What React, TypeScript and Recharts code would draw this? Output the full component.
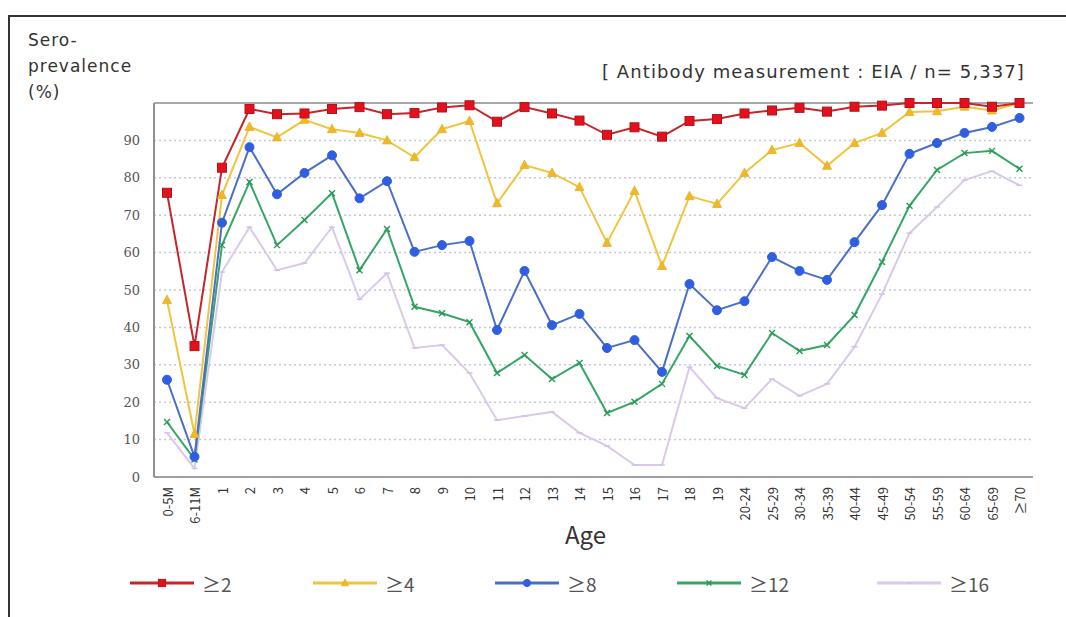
import React from 'react';
import { LineChart, Line, XAxis, YAxis, CartesianGrid, ReferenceLine } from 'recharts';

const ages = ['0-5M', '6-11M', '1', '2', '3', '4', '5', '6', '7', '8', '9', '10', '11', '12', '13', '14', '15', '16', '17', '18', '19', '20-24', '25-29', '30-34', '35-39', '40-44', '45-49', '50-54', '55-59', '60-64', '65-69', '≥70'];

const ge2 = [76, 35, 82.7, 98.4, 97, 97.2, 98.4, 98.9, 97, 97.3, 98.8, 99.4, 95, 98.9, 97.2, 95.3, 91.5, 93.5, 91, 95.2, 95.7, 97.2, 98, 98.7, 97.7, 99, 99.3, 100, 100, 100, 99, 100];
const ge4 = [47.3, 11.5, 75.4, 93.6, 90.8, 95.5, 93, 92, 90, 85.5, 93, 95.2, 73.2, 83.4, 81.3, 77.5, 62.6, 76.5, 56.4, 75.1, 73, 81.3, 87.4, 89.3, 83.2, 89.3, 92, 97.6, 97.8, 99, 98, 100];
const ge8 = [26, 5.4, 68, 88.2, 75.6, 81.3, 86, 74.5, 79.1, 60.2, 62, 63.1, 39.3, 55.1, 40.6, 43.6, 34.5, 36.6, 28.1, 51.6, 44.6, 47, 58.8, 55.1, 52.7, 62.8, 72.7, 86.4, 89.3, 92, 93.6, 96];
const ge12 = [14.7, 4.7, 62, 78.9, 62, 68.7, 75.9, 55.3, 66.3, 45.5, 43.8, 41.4, 27.8, 32.6, 26.2, 30.5, 17.1, 20.1, 24.9, 37.7, 29.7, 27.3, 38.5, 33.7, 35.3, 43.3, 57.5, 72.5, 82.1, 86.6, 87.2, 82.4];
const ge16 = [11.8, 2.3, 54.8, 66.8, 55.3, 57.2, 66.8, 47.5, 54.5, 34.5, 35.3, 27.8, 15.2, 16.3, 17.4, 11.8, 8.3, 3.2, 3.2, 29.4, 21.1, 18.4, 26.2, 21.7, 24.9, 34.8, 48.9, 65.2, 72.2, 79.4, 81.8, 78];

const yTicks = [0, 10, 20, 30, 40, 50, 60, 70, 80, 90];

const seriesNames = ['≥2', '≥4', '≥8', '≥12', '≥16'];
const seriesValues = [ge2, ge4, ge8, ge12, ge16];
const seriesKeys = ['s2', 's4', 's8', 's12', 's16'];
const lineColors = ['#c9242a', '#f0c43c', '#4a6fc8', '#36a566', '#d9c9ec'];
const markColors = ['#e4101c', '#f2b820', '#2f5fe0', '#2a9a55', '#d0c0e8'];
const markers = ['square', 'triangle', 'circle', 'cross', 'dash'];
const legendLeft = [120, 303, 485, 667, 867];

const data = ages.map((age, i) => {
  const row: Record<string, string | number> = { age };
  seriesKeys.forEach((k, j) => {
    row[k] = seriesValues[j][i];
  });
  return row;
});

function Marker({ kind, cx, cy, color, s = 1 }: { kind: string; cx: number; cy: number; color: string; s?: number }) {
  if (kind === 'square') {
    const h = 4.5 * s;
    return <rect x={cx - h} y={cy - h} width={2 * h} height={2 * h} fill={color} stroke="#b0141c" strokeWidth={1} />;
  }
  if (kind === 'triangle') {
    return <polygon points={`${cx},${cy - 5 * s} ${cx + 4.5 * s},${cy + 3.5 * s} ${cx - 4.5 * s},${cy + 3.5 * s}`} fill={color} stroke="#e0b030" strokeWidth={0.8} />;
  }
  if (kind === 'circle') {
    return <circle cx={cx} cy={cy} r={4.5 * s} fill={color} stroke={color} />;
  }
  if (kind === 'cross') {
    const h = 3 * s;
    return (
      <g stroke={color} strokeWidth={1.4}>
        <line x1={cx - h} y1={cy - h} x2={cx + h} y2={cy + h} />
        <line x1={cx - h} y1={cy + h} x2={cx + h} y2={cy - h} />
      </g>
    );
  }
  return <line x1={cx - 3} y1={cy} x2={cx + 3} y2={cy} stroke={color} strokeWidth={1.4} />;
}

const XTick = (props: any) => {
  const { x, y, payload } = props;
  const ty = y + 8;
  return (
    <text
      x={x}
      y={ty}
      transform={`rotate(-90 ${x} ${ty})`}
      textAnchor="end"
      dominantBaseline="central"
      fontSize={13}
      fontFamily="'Noto Sans CJK JP', 'DejaVu Sans', sans-serif"
      fill="#333"
    >
      {payload.value}
    </text>
  );
};

const uiFont = "'Noto Sans CJK JP', 'Noto Sans', sans-serif";

export default function App() {
  return (
    <div
      style={{
        position: 'absolute',
        left: 8,
        top: 15,
        width: 1058,
        height: 602,
        borderTop: '2px solid #333',
        borderLeft: '2px solid #333',
        boxSizing: 'border-box',
        background: '#fff',
        fontFamily: uiFont,
      }}
    >
      <div style={{ position: 'absolute', left: -2, top: -2 }}>
        <LineChart width={1050} height={600} data={data} margin={{ top: 88, right: 25, left: 106, bottom: 78 }}>
          <CartesianGrid vertical={false} stroke="#c4c8d8" strokeDasharray="2 3" strokeWidth={1.5} />
          <XAxis
            dataKey="age"
            interval={0}
            tick={<XTick />}
            tickLine={false}
            tickSize={0}
            height={60}
            padding={{ left: 13, right: 13.5 }}
            axisLine={{ stroke: '#a0a0a0', strokeWidth: 2 }}
          />
          <YAxis
            domain={[0, 100]}
            ticks={yTicks}
            width={40}
            tickLine={false}
            tickSize={0}
            tickMargin={14}
            axisLine={{ stroke: '#909090', strokeWidth: 2 }}
            tick={{ fill: '#555', fontSize: 13, fontFamily: "'DejaVu Serif', serif" }}
          />
          <YAxis
            yAxisId="r"
            orientation="right"
            domain={[0, 100]}
            width={0}
            tick={false}
            tickLine={false}
            axisLine={{ stroke: '#a0a0a0', strokeWidth: 1.5 }}
          />
          <ReferenceLine y={100} stroke="#a8a8a8" strokeWidth={2} />
          {seriesKeys.map((k, j) => (
            <Line
              key={k}
              dataKey={k}
              name={seriesNames[j]}
              stroke={lineColors[j]}
              strokeWidth={2}
              isAnimationActive={false}
              dot={(p: any) => (
                <Marker key={`${k}-${p.index}`} kind={markers[j]} cx={p.cx} cy={p.cy} color={markColors[j]} />
              )}
              activeDot={false}
            />
          )).reverse()}
        </LineChart>
      </div>
      <div style={{ position: 'absolute', left: 18, top: 10, fontSize: 17, lineHeight: '26px', color: '#333', letterSpacing: 1, fontFamily: "'DejaVu Sans', sans-serif" }}>
        <div>Sero-</div>
        <div>prevalence</div>
        <div>(%)</div>
      </div>
      <div style={{ position: 'absolute', right: 41, top: 44, fontSize: 18, color: '#333', whiteSpace: 'nowrap', letterSpacing: 1.1, fontFamily: "'DejaVu Sans', sans-serif" }}>
        [ Antibody measurement : EIA / n= 5,337]
      </div>
      <div style={{ position: 'absolute', left: 555, top: 499, fontSize: 24, color: '#333' }}>Age</div>
      <div style={{ position: 'absolute', left: 0, top: 551, width: 1050, height: 30 }}>
        {seriesNames.map((name, j) => (
          <div
            key={name}
            style={{ position: 'absolute', left: legendLeft[j], top: 0, display: 'flex', alignItems: 'center', height: 30 }}
          >
            <svg width={64} height={14}>
              <line x1={0} y1={7} x2={64} y2={7} stroke={lineColors[j]} strokeWidth={3} />
              <Marker kind={markers[j]} cx={32} cy={7} color={markColors[j]} s={0.8} />
            </svg>
            <span style={{ marginLeft: 8, fontSize: 19, color: '#555' }}>{name}</span>
          </div>
        ))}
      </div>
    </div>
  );
}
